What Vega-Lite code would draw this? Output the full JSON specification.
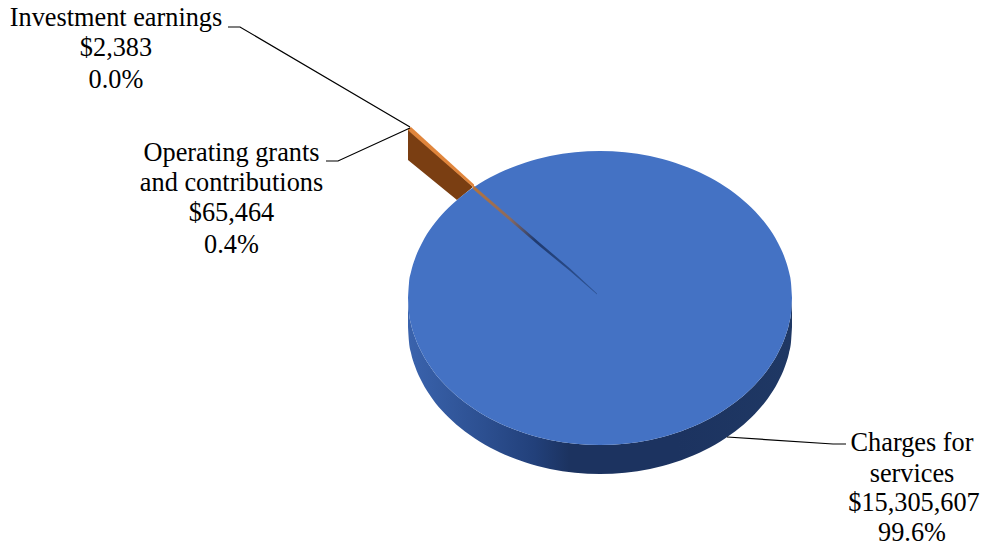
{"$schema":"https://vega.github.io/schema/vega-lite/v6.json","width":985,"height":546,"padding":0,"autosize":"none","background":"white","config":{"view":{"stroke":null}},
"encoding":{"x":{"field":"x","type":"quantitative","scale":{"domain":[-600,385]},"axis":null},"y":{"field":"y","type":"quantitative","scale":{"domain":[-248,298]},"axis":null}},
"layer":[
{"data":{"values":[{"x":-192,"y":0,"y2":-29},{"x":-191,"y":-15,"y2":-44},{"x":-189,"y":-25.9,"y2":-54.9},{"x":-185,"y":-39.3,"y2":-68.3},{"x":-178,"y":-55.1,"y2":-84.1},{"x":-168,"y":-71.2,"y2":-100.2},{"x":-155,"y":-86.8,"y2":-115.8},{"x":-140,"y":-100.6,"y2":-129.6},{"x":-120,"y":-114.8,"y2":-143.8},{"x":-100,"y":-125.5,"y2":-154.5},{"x":-75,"y":-135.3,"y2":-164.3},{"x":-50,"y":-141.9,"y2":-170.9},{"x":-25,"y":-145.8,"y2":-174.8},{"x":0,"y":-147,"y2":-176},{"x":25,"y":-145.8,"y2":-174.8},{"x":50,"y":-141.9,"y2":-170.9},{"x":75,"y":-135.3,"y2":-164.3},{"x":100,"y":-125.5,"y2":-154.5},{"x":120,"y":-114.8,"y2":-143.8},{"x":140,"y":-100.6,"y2":-129.6},{"x":155,"y":-86.8,"y2":-115.8},{"x":168,"y":-71.2,"y2":-100.2},{"x":178,"y":-55.1,"y2":-84.1},{"x":185,"y":-39.3,"y2":-68.3},{"x":189,"y":-25.9,"y2":-54.9},{"x":191,"y":-15,"y2":-44},{"x":192,"y":0,"y2":-29}]},
"mark":{"type":"area","orient":"vertical","interpolate":"monotone","color":{"gradient":"linear","x1":0,"y1":0,"x2":1,"y2":0,"stops":[{"offset":0,"color":"#3a63ad"},{"offset":0.2,"color":"#2c4f90"},{"offset":0.33,"color":"#22407a"},{"offset":0.42,"color":"#1c3360"},{"offset":0.7,"color":"#1c3360"},{"offset":1,"color":"#1f3864"}]}},
"encoding":{"y2":{"field":"y2"}}},
{"data":{"values":[{"x":-192,"y":170,"y2":138},{"x":-143,"y":125.5,"y2":98},{"x":-127,"y":111,"y2":111}]},
"mark":{"type":"area","orient":"vertical","color":"#7a3e12"},"encoding":{"y2":{"field":"y2"}}},
{"data":{"values":[{"x":-192,"y":0,"y2":0},{"x":-191,"y":15,"y2":-15},{"x":-189,"y":25.9,"y2":-25.9},{"x":-185,"y":39.3,"y2":-39.3},{"x":-178,"y":55.1,"y2":-55.1},{"x":-168,"y":71.2,"y2":-71.2},{"x":-155,"y":86.8,"y2":-86.8},{"x":-140,"y":100.6,"y2":-100.6},{"x":-120,"y":114.8,"y2":-114.8},{"x":-100,"y":125.5,"y2":-125.5},{"x":-75,"y":135.3,"y2":-135.3},{"x":-50,"y":141.9,"y2":-141.9},{"x":-25,"y":145.8,"y2":-145.8},{"x":0,"y":147,"y2":-147},{"x":25,"y":145.8,"y2":-145.8},{"x":50,"y":141.9,"y2":-141.9},{"x":75,"y":135.3,"y2":-135.3},{"x":100,"y":125.5,"y2":-125.5},{"x":120,"y":114.8,"y2":-114.8},{"x":140,"y":100.6,"y2":-100.6},{"x":155,"y":86.8,"y2":-86.8},{"x":168,"y":71.2,"y2":-71.2},{"x":178,"y":55.1,"y2":-55.1},{"x":185,"y":39.3,"y2":-39.3},{"x":189,"y":25.9,"y2":-25.9},{"x":191,"y":15,"y2":-15},{"x":192,"y":0,"y2":0}]},
"mark":{"type":"area","orient":"vertical","interpolate":"monotone","color":"#4472c4"},"encoding":{"y2":{"field":"y2"}}},
{"data":{"values":[{"x":-127,"y":113,"y2":109},{"x":-60,"y":55,"y2":51.5},{"x":-30,"y":29.5,"y2":27},{"x":-3,"y":4.5,"y2":3.5}]},
"mark":{"type":"area","orient":"vertical","color":{"gradient":"linear","x1":0,"y1":0,"x2":1,"y2":0,"stops":[{"offset":0,"color":"#b5743c"},{"offset":0.3,"color":"#8a6a60"},{"offset":0.5,"color":"#1f3a70"},{"offset":1,"color":"#2f5597"}]}},"encoding":{"y2":{"field":"y2"}}},
{"data":{"values":[{"x":-192,"y":169.5,"y2":168},{"x":-189,"y":171,"y2":165},{"x":-126,"y":113.5,"y2":110}]},
"mark":{"type":"area","orient":"vertical","color":"#e0853c"},"encoding":{"y2":{"field":"y2"}}},
{"data":{"values":[{"s":"a","o":1,"x":-372,"y":271},{"s":"a","o":2,"x":-360,"y":271},{"s":"a","o":3,"x":-190,"y":171},{"s":"b","o":1,"x":-274,"y":137},{"s":"b","o":2,"x":-262,"y":137},{"s":"b","o":3,"x":-190,"y":170},{"s":"c","o":1,"x":127,"y":-139},{"s":"c","o":2,"x":233,"y":-146},{"s":"c","o":3,"x":246,"y":-146}]},
"mark":{"type":"line","color":"#000000","strokeWidth":1.2},"encoding":{"detail":{"field":"s"},"order":{"field":"o"}}},
{"data":{"values":[{"x":-484,"y":280,"t":"Investment earnings"},{"x":-484,"y":250,"t":"$2,383"},{"x":-484,"y":218,"t":"0.0%"},{"x":-368.5,"y":145,"t":"Operating grants"},{"x":-368.5,"y":115,"t":"and contributions"},{"x":-368.5,"y":85,"t":"$65,464"},{"x":-368.5,"y":53,"t":"0.4%"},{"x":312,"y":-145,"t":"Charges for"},{"x":312,"y":-176,"t":"services"},{"x":314,"y":-205,"t":"$15,305,607"},{"x":312,"y":-235,"t":"99.6%"}]},
"mark":{"type":"text","font":"Liberation Serif","fontSize":26.3,"color":"#000000","align":"center","baseline":"middle"},"encoding":{"text":{"field":"t"}}}
]}
